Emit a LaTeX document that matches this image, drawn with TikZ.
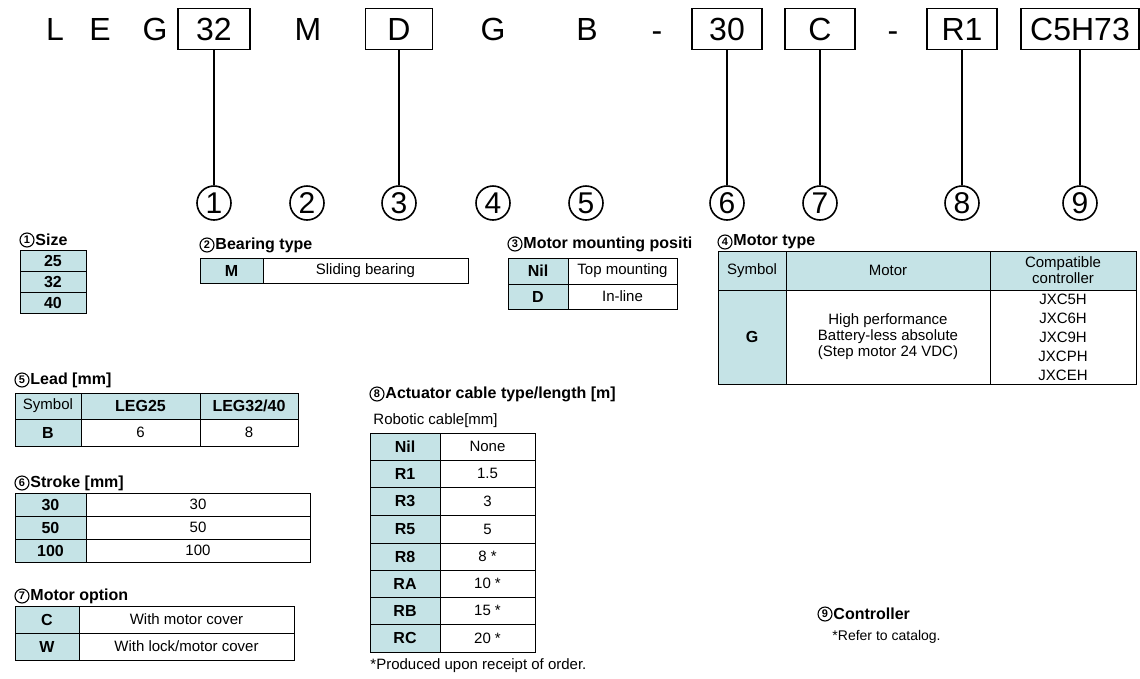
\documentclass[tikz,border=0pt]{standalone}
\usepackage{fontspec}
\setmainfont{Liberation Sans}
\definecolor{cy}{HTML}{C5E3E6}
\newcommand{\cl}[6]{\draw[fill=#5] (#1,#2) rectangle (#3,#4); \node[font=\fontsize{15}{16}\selectfont, align=center] at ({(#1+#3)/2},{(#2+#4)/2}) {#6};}
\newcommand{\hd}[6]{\draw[fill=#5] (#1,#2) rectangle (#3,#4); \node[font=\fontsize{16}{16}\selectfont\bfseries, align=center] at ({(#1+#3)/2},{(#2+#4)/2}) {#6};}
\newcommand{\ttl}[4]{\node[draw,circle,line width=1.1pt,inner sep=0,minimum size=14pt,font=\fontsize{11}{11}\selectfont\bfseries] at (#1+7,#2) {#3};
 \node[anchor=west,font=\fontsize{16}{16}\selectfont\bfseries,inner sep=0] at (#1+15,#2) {#4};}
\begin{document}
\begin{tikzpicture}[x=1pt,y=-1pt, line width=0.9pt,
  letter/.style={font=\fontsize{32}{32}\selectfont},
  code/.style={draw, line width=1.2pt, minimum height=41pt, font=\fontsize{32}{32}\selectfont, inner sep=0},
  circ/.style={draw,circle,line width=1.6pt,minimum size=34pt,inner sep=0,font=\fontsize{30}{30}\selectfont}]
\useasboundingbox (0,0) rectangle (1140,678);
% top code
\node[letter] at (55,29) {L};
\node[letter] at (100,29) {E};
\node[letter] at (155,29) {G};
\node[code,minimum width=72pt] (b1) at (214,29) {32};
\node[letter] at (308,29) {M};
\node[code,minimum width=67pt] (b3) at (399,29) {D};
\node[letter] at (493,29) {G};
\node[letter] at (587,29) {B};
\node[letter] at (657,37) {-};
\node[code,minimum width=70pt] (b6) at (727,29) {30};
\node[code,minimum width=70pt] (b7) at (820,29) {C};
\node[letter] at (893,37) {-};
\node[code,minimum width=70pt] (b8) at (962,29) {R1};
\node[code,minimum width=118pt] (b9) at (1080,29) {C5H73};
\foreach \n/\x in {1/214,2/307,3/399,4/493,5/586,6/727,7/820,8/962,9/1080}
  \node[circ] (c\n) at (\x,203) {\n};
\foreach \n in {1,3,6,7,8,9} \draw[line width=1.5pt] (b\n.south) -- (c\n.north);
% 1 size
\ttl{20}{240}{1}{Size}
\hd{20}{250}{86}{271}{cy}{25}
\hd{20}{271}{86}{292}{cy}{32}
\hd{20}{292}{86}{313}{cy}{40}
% 2 bearing
\ttl{200}{245}{2}{Bearing type}
\hd{200}{258}{263}{283}{cy}{M}
\cl{263}{258}{468}{283}{white}{Sliding bearing}
% 3 mounting
\ttl{508}{244}{3}{Motor mounting positi}
\hd{508}{258}{568}{284}{cy}{Nil}
\cl{568}{258}{677}{284}{white}{Top mounting}
\hd{508}{284}{568}{309}{cy}{D}
\cl{568}{284}{677}{309}{white}{In-line}
% 4 motor type
\ttl{718}{242}{4}{Motor type}
\cl{718}{251}{786}{290}{cy}{Symbol}
\cl{786}{251}{990}{290}{cy}{Motor}
\cl{990}{251}{1136}{290}{cy}{Compatible\\controller}
\hd{718}{290}{786}{384}{cy}{G}
\cl{786}{290}{990}{384}{white}{High performance\\Battery-less absolute\\(Step motor 24 VDC)}
\draw (990,290) rectangle (1136,384);
\node[font=\fontsize{15}{19}\selectfont,align=center] at (1063,337) {JXC5H\\JXC6H\\JXC9H\\JXCPH\\JXCEH};
% 5 lead
\ttl{15}{380}{5}{Lead [mm]}
\cl{15}{393}{81}{419}{cy}{Symbol}
\hd{81}{393}{200}{419}{cy}{LEG25}
\hd{200}{393}{298}{419}{cy}{LEG32/40}
\hd{15}{419}{81}{446}{cy}{B}
\cl{81}{419}{200}{446}{white}{6}
\cl{200}{419}{298}{446}{white}{8}
% 6 stroke
\ttl{15}{483}{6}{Stroke [mm]}
\hd{15}{493}{86}{516}{cy}{30}\cl{86}{493}{310}{516}{white}{30}
\hd{15}{516}{86}{539}{cy}{50}\cl{86}{516}{310}{539}{white}{50}
\hd{15}{539}{86}{562}{cy}{100}\cl{86}{539}{310}{562}{white}{100}
% 7 motor option
\ttl{15}{596}{7}{Motor option}
\hd{15}{606}{79}{633}{cy}{C}\cl{79}{606}{294}{633}{white}{With motor cover}
\hd{15}{633}{79}{660}{cy}{W}\cl{79}{633}{294}{660}{white}{With lock/motor cover}
% 8 cable
\ttl{370}{394}{8}{Actuator cable type/length [m]}
\node[anchor=west,inner sep=0,font=\fontsize{15}{16}\selectfont] at (373,421) {Robotic cable[mm]};
\hd{370}{433}{440}{460}{cy}{Nil}\cl{440}{433}{535}{460}{white}{None}
\hd{370}{460}{440}{487}{cy}{R1}\cl{440}{460}{535}{487}{white}{1.5}
\hd{370}{487}{440}{515}{cy}{R3}\cl{440}{487}{535}{515}{white}{3}
\hd{370}{515}{440}{543}{cy}{R5}\cl{440}{515}{535}{543}{white}{5}
\hd{370}{543}{440}{570}{cy}{R8}\cl{440}{543}{535}{570}{white}{8 *}
\hd{370}{570}{440}{597}{cy}{RA}\cl{440}{570}{535}{597}{white}{10 *}
\hd{370}{597}{440}{624}{cy}{RB}\cl{440}{597}{535}{624}{white}{15 *}
\hd{370}{624}{440}{652}{cy}{RC}\cl{440}{624}{535}{652}{white}{20 *}
\node[anchor=west,inner sep=0,font=\fontsize{15}{16}\selectfont] at (370,666) {*Produced upon receipt of order.};
% 9 controller
\ttl{818}{614}{9}{Controller}
\node[anchor=west,inner sep=0,font=\fontsize{14}{16}\selectfont] at (832,637) {*Refer to catalog.};
\end{tikzpicture}
\end{document}
